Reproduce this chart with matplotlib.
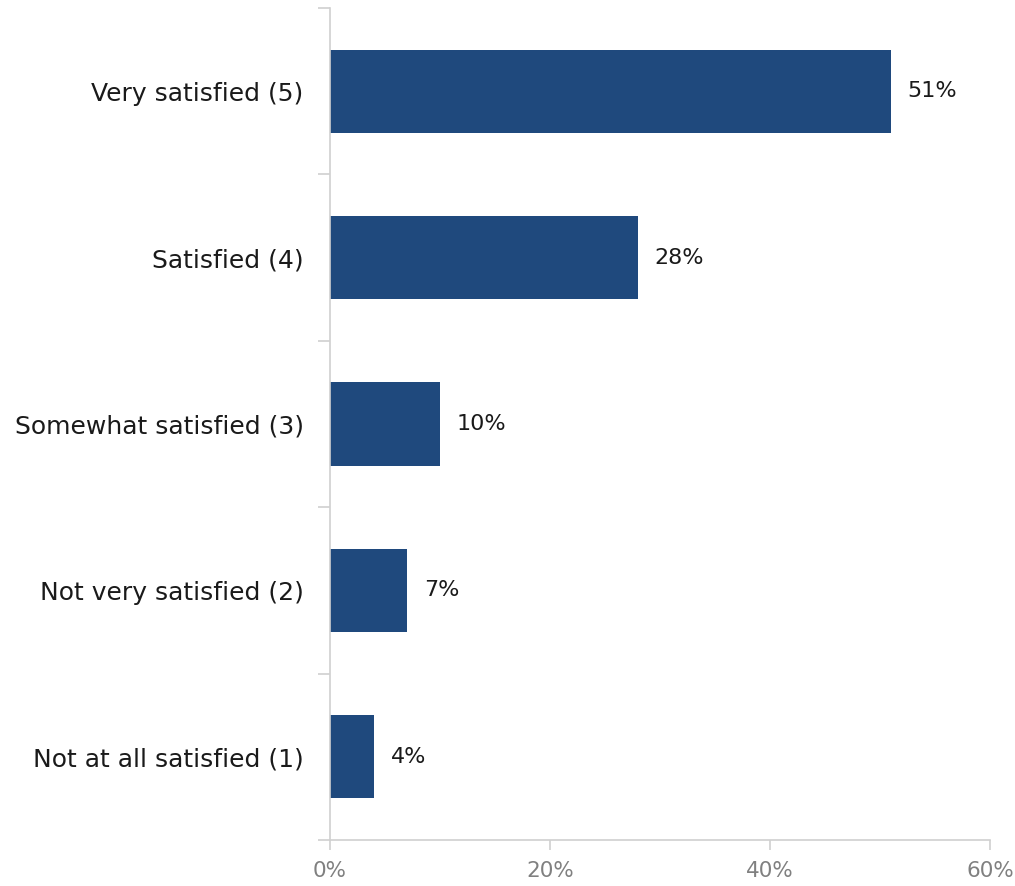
import matplotlib.pyplot as plt

categories = ['Very satisfied (5)', 'Satisfied (4)', 'Somewhat satisfied (3)',
              'Not very satisfied (2)', 'Not at all satisfied (1)']
values = [51, 28, 10, 7, 4]
x_ticks = [0, 20, 40, 60]

BAR_COLOR = '#1F497D'
AXIS_COLOR = '#D0D0D0'

plt.rcParams['font.family'] = ['DejaVu Sans']

fig = plt.figure(figsize=(10.15, 8.86), dpi=100)
ax = fig.add_axes([330 / 1015, 1 - 840 / 886, 660 / 1015, 832 / 886])

pos = list(range(len(categories)))
ax.barh(pos, values, height=0.5, color=BAR_COLOR)
for p, v in zip(pos, values):
    ax.annotate(f'{v}%', (v, p), xytext=(12, 0), textcoords='offset points',
                va='center', ha='left', fontsize=16, color='#1a1a1a')

ax.set_xlim(0, 60)
ax.set_ylim(len(categories) - 0.5, -0.5)
ax.set_xticks(x_ticks)
ax.set_xticklabels([f'{t}%' for t in x_ticks], fontsize=15.5, color='#808080')
ax.set_yticks(pos)
ax.set_yticklabels(categories, fontsize=18, color='#1a1a1a')
ax.set_yticks([p - 0.5 for p in pos] + [len(categories) - 0.5], minor=True)

ax.tick_params(axis='y', which='major', length=0, pad=19)
ax.tick_params(axis='y', which='minor', length=9, width=1.2, color=AXIS_COLOR)
ax.tick_params(axis='x', length=7, width=1.2, color=AXIS_COLOR, pad=8)

for side in ['top', 'right']:
    ax.spines[side].set_visible(False)
for side in ['left', 'bottom']:
    ax.spines[side].set_color(AXIS_COLOR)
    ax.spines[side].set_linewidth(1.2)

fig.savefig('out.png', dpi=100)
